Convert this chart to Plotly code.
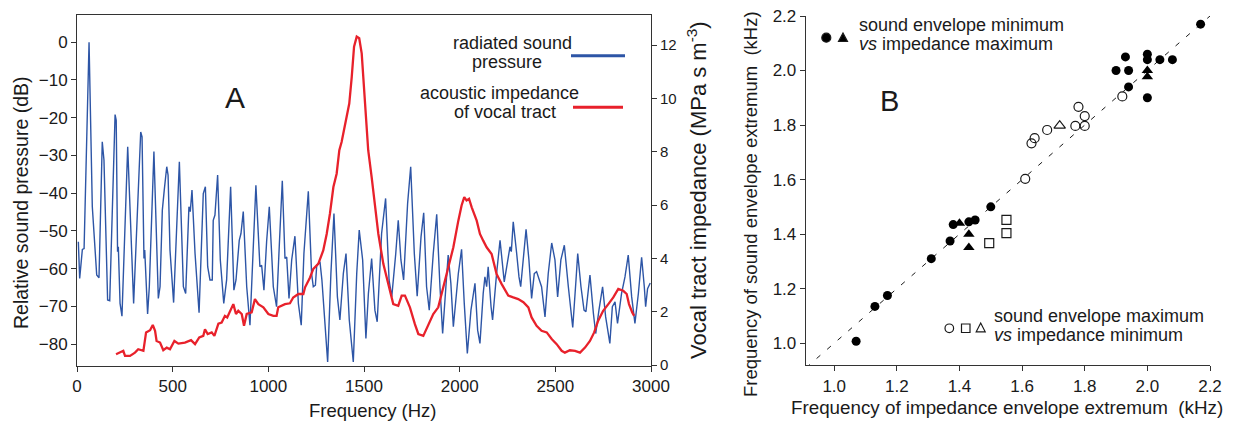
import plotly.graph_objects as go

# ---- panel A: radiated sound pressure (dB) vs frequency (Hz)
blue_f = [7, 14, 28, 37, 63, 80, 103, 115, 132, 141, 160, 171, 199, 205, 212, 216, 225, 235, 265, 296,
          333, 340, 350, 354, 369, 378, 402, 425, 434, 446, 456, 469, 476, 486, 505, 535, 556, 568, 585, 592,
          601, 617, 638, 660, 671, 683, 695, 707, 712, 721, 735, 749, 767, 782, 803, 820, 831, 848, 857, 869,
          887, 904, 935, 956, 965, 977, 991, 1005, 1026, 1043, 1057, 1073, 1087, 1096, 1108, 1122, 1139, 1157,
          1172, 1186, 1209, 1226, 1235, 1246, 1253, 1270, 1280, 1296, 1310, 1327, 1343, 1361, 1374, 1392, 1406,
          1423, 1444, 1462, 1475, 1493, 1510, 1523, 1540, 1557, 1569, 1592, 1613, 1631, 1645, 1666, 1679, 1693,
          1707, 1728, 1744, 1763, 1778, 1798, 1812, 1827, 1841, 1862, 1880, 1897, 1911, 1928, 1940, 1954, 1967,
          1993, 2010, 2024, 2040, 2059, 2080, 2094, 2106, 2123, 2132, 2141, 2149, 2164, 2172, 2193, 2211, 2233,
          2249, 2263, 2270, 2280, 2298, 2310, 2319, 2333, 2347, 2362, 2376, 2390, 2402, 2428, 2446, 2463, 2481,
          2498, 2512, 2529, 2547, 2568, 2591, 2608, 2617, 2634, 2650, 2660, 2681, 2699, 2711, 2728, 2747, 2763,
          2785, 2798, 2812, 2825, 2846, 2864, 2881, 2899, 2916, 2934, 2951, 2965, 2972, 2982, 2996]
blue_db = [-52.9, -62.6, -54.9, -54.7, 0, -43.6, -61.7, -62.4, -26.4, -31.3, -68.3, -68.5, -19.2, -20.7, -55.5,
           -54.2, -69.2, -72.6, -27.7, -69.2, -23.8, -25.1, -57.3, -55.1, -72, -64.8, -29, -67.9, -64.8, -44.5,
           -39.2, -33, -35.2, -55.1, -69, -31.7, -64.8, -66.6, -43.6, -44.9, -39.2, -56, -71.7, -40.1, -38.3,
           -59.5, -63, -63, -47.2, -45.8, -35.2, -57.7, -69.2, -63, -38.3, -65.7, -63, -52.5, -50.7, -44.9,
           -64.8, -75, -37.9, -59.5, -59.1, -65.7, -52.9, -43.6, -64.8, -70.1, -54.2, -36.7, -57.3, -56.9,
           -67.9, -57.7, -51.4, -69.2, -75, -56, -39.5, -61.3, -64.8, -64.4, -59.1, -58.2, -63, -75.4, -84.7,
           -61.3, -45.4, -67.5, -73.6, -61.3, -56, -73.6, -84.7, -61.3, -49.8, -57.7, -78.5, -66.6, -57.3, -71,
           -74.1, -50.7, -41.4, -63, -67.5, -56, -47.2, -57.7, -63, -42.7, -33, -56, -67.3, -51.6, -45.2, -64.8,
           -71, -56, -45.6, -64.8, -77.2, -64.8, -56.4, -63.9, -75.4, -61.3, -54.9, -69.2, -82.5, -71, -63.9,
           -76.3, -79.8, -66.6, -62.2, -64.8, -59.5, -70.1, -73.6, -61.3, -52.5, -63.5, -58, -54.2, -55.5,
           -47.6, -56, -62.2, -64.8, -57.7, -49.6, -57.7, -67.9, -61.3, -60.8, -64.8, -72.8, -61.3, -53.2,
           -57.7, -67.5, -57.7, -53.8, -64.8, -75.6, -63, -56, -64.8, -71, -71.4, -61.7, -71.9, -77.2, -71,
           -64.8, -72.8, -79.8, -70.1, -68.8, -74.5, -66.6, -62.2, -56.4, -67.5, -74.5, -66.6, -57, -64.8,
           -70.1, -65.3, -63.8]

# ---- panel A: acoustic impedance of vocal tract (MPa s m-3)
red_f = [204, 242, 251, 277, 303, 320, 347, 361, 382, 396, 408, 416, 434, 451, 469, 486, 509, 530, 564, 596,
         617, 639, 660, 669, 683, 704, 718, 739, 756, 773, 785, 800, 817, 831, 843, 861, 873, 887, 913, 930,
         948, 974, 1000, 1026, 1043, 1052, 1087, 1113, 1130, 1157, 1183, 1192, 1218, 1235, 1261, 1287, 1305,
         1322, 1340, 1357, 1371, 1383, 1395, 1409, 1423, 1436, 1448, 1462, 1475, 1488, 1500, 1514, 1522, 1540,
         1557, 1575, 1601, 1627, 1653, 1679, 1697, 1714, 1740, 1766, 1784, 1810, 1836, 1862, 1888, 1914, 1940,
         1967, 1993, 2010, 2024, 2036, 2049, 2063, 2089, 2106, 2123, 2141, 2167, 2193, 2219, 2237, 2254, 2280,
         2306, 2333, 2359, 2376, 2402, 2428, 2455, 2481, 2507, 2533, 2550, 2576, 2603, 2629, 2655, 2681, 2703,
         2724, 2750, 2777, 2803, 2829, 2855, 2873, 2885, 2902, 2912]
red_imp = [0.41, 0.54, 0.35, 0.35, 0.47, 0.6, 0.54, 1.23, 1.31, 1.51, 1.29, 0.91, 0.85, 0.56, 0.66, 0.6, 0.91,
           0.81, 0.85, 0.94, 0.79, 1.04, 1.1, 1.35, 1.17, 1.23, 1.1, 1.56, 1.6, 1.85, 1.79, 2.04, 2.29, 1.92,
           2.04, 1.92, 1.48, 1.92, 1.98, 2.48, 2.29, 2.17, 1.92, 1.85, 1.85, 2.17, 2.29, 2.32, 2.54, 2.67, 2.67,
           2.92, 3.29, 3.61, 3.8, 4.3, 4.92, 5.68, 6.68, 7.18, 8.06, 8.37, 8.81, 9.21, 9.81, 10.81, 11.94, 12.32,
           12.26, 11.69, 10.44, 8.9, 8.06, 7.05, 5.92, 4.92, 3.8, 3.05, 2.29, 2.23, 2.61, 2.61, 2.17, 1.54, 1.17,
           1.1, 1.48, 1.92, 2.17, 2.92, 3.67, 4.42, 5.42, 5.99, 6.3, 6.18, 6.24, 5.92, 5.42, 4.92, 4.67, 4.42,
           4.17, 3.42, 3.05, 2.85, 2.61, 2.54, 2.48, 2.36, 2.17, 1.79, 1.48, 1.29, 1.23, 0.98, 0.79, 0.54, 0.47,
           0.56, 0.54, 0.47, 0.66, 0.91, 1.23, 1.67, 2.04, 2.29, 2.54, 2.86, 2.79, 2.67, 2.29, 1.98, 1.85]

# ---- panel B: impedance extremum (x) vs sound envelope extremum (y), kHz
min_circ_x = [2.17, 1.93, 2.00, 2.00, 2.04, 2.08, 1.90, 1.94, 1.94, 2.00, 1.50, 1.38, 1.43, 1.45,
              1.37, 1.31, 1.17, 1.13, 1.07]
min_circ_y = [2.17, 2.05, 2.06, 2.04, 2.04, 2.04, 2.00, 2.00, 1.94, 1.90, 1.50, 1.435, 1.445, 1.452,
              1.375, 1.31, 1.175, 1.135, 1.007]
min_tri_x = [2.00, 2.00, 1.40, 1.43, 1.43]
min_tri_y = [2.00, 1.977, 1.44, 1.40, 1.351]
max_circ_x = [1.92, 1.78, 1.80, 1.77, 1.80, 1.68, 1.64, 1.63, 1.61]
max_circ_y = [1.905, 1.867, 1.833, 1.797, 1.797, 1.782, 1.752, 1.733, 1.603]
max_sq_x = [1.55, 1.55, 1.495]
max_sq_y = [1.452, 1.404, 1.367]
max_tri_x = [1.72]
max_tri_y = [1.798]
diag = [0.91, 2.2]

W, H = 1234, 421
FONT = "Liberation Sans, Arial, Helvetica, sans-serif"
INK = "#1a1a1a"
BLUE = "#2d55a6"
RED = "#e8212b"


def px(x):
    return x / W


def py(y):
    return 1 - y / H


fig = go.Figure()

fig.add_trace(go.Scatter(x=blue_f, y=blue_db, mode="lines", line=dict(color=BLUE, width=1.4),
                         xaxis="x", yaxis="y"))
fig.add_trace(go.Scatter(x=red_f, y=red_imp, mode="lines", line=dict(color=RED, width=2.3),
                         xaxis="x", yaxis="y2"))

fig.add_trace(go.Scatter(x=diag, y=diag, mode="lines",
                         line=dict(color=INK, width=1, dash="5px,9px"), xaxis="x2", yaxis="y3"))
mk = dict(mode="markers", xaxis="x2", yaxis="y3")
fig.add_trace(go.Scatter(x=max_circ_x, y=max_circ_y,
                         marker=dict(symbol="circle-open", size=9, color=INK, line=dict(width=1.2)), **mk))
fig.add_trace(go.Scatter(x=max_sq_x, y=max_sq_y,
                         marker=dict(symbol="square-open", size=9, color=INK, line=dict(width=1.2)), **mk))
fig.add_trace(go.Scatter(x=max_tri_x, y=max_tri_y,
                         marker=dict(symbol="triangle-up-open", size=10, color=INK, line=dict(width=1.2)), **mk))
fig.add_trace(go.Scatter(x=min_circ_x, y=min_circ_y,
                         marker=dict(symbol="circle", size=9, color="black"), **mk))
fig.add_trace(go.Scatter(x=min_tri_x, y=min_tri_y,
                         marker=dict(symbol="triangle-up", size=10, color="black"), **mk))

ax = dict(showline=True, linecolor="#333", linewidth=1, ticks="outside", ticklen=5, tickcolor="#333",
          showgrid=False, zeroline=False, automargin=False,
          tickfont=dict(size=17, color=INK, family=FONT))

fig.update_layout(
    width=W, height=H, autosize=False,
    margin=dict(l=0, r=0, t=0, b=0, autoexpand=False),
    paper_bgcolor="white", plot_bgcolor="white",
    showlegend=False,
    font=dict(family=FONT, color=INK),
    xaxis=dict(ax, domain=[px(77), px(651)], range=[0, 3000], tickvals=[0, 500, 1000, 1500, 2000, 2500, 3000],
               mirror=True, anchor="y"),
    yaxis=dict(ax, domain=[py(366), py(15)], range=[-85.8, 7.2], tickvals=list(range(-80, 1, 10)),
               anchor="x"),
    yaxis2=dict(ax, overlaying="y", side="right", anchor="x", range=[-0.03, 13.13],
                tickvals=[0, 2, 4, 6, 8, 10, 12], tickfont=dict(size=15, color=INK, family=FONT)),
    xaxis2=dict(ax, domain=[px(805.7), px(1210)], range=[0.909, 2.2], tickvals=[1.0, 1.2, 1.4, 1.6, 1.8, 2.0, 2.2],
                tickformat=".1f", anchor="y3"),
    yaxis3=dict(ax, domain=[py(365.3), py(16)], range=[0.919, 2.2], tickvals=[1.0, 1.2, 1.4, 1.6, 1.8, 2.0, 2.2],
                tickformat=".1f", anchor="x2"),
)


def label(text, x, y, size, angle=0, anchor="center"):
    fig.add_annotation(text=text, x=px(x), y=py(y), xref="paper", yref="paper", showarrow=False,
                       textangle=angle, xanchor=anchor, yanchor="middle",
                       font=dict(size=size, color=INK, family=FONT))


# axis titles
label("Relative sound pressure (dB)", 21, 203, 19.5, angle=-90)
label("Vocal tract impedance (MPa s m<sup>-3</sup>)", 697, 190, 22, angle=-90)
label("Frequency (Hz)", 372, 410, 18.5)
label("Frequency of sound envelope extremum  (kHz)", 750, 204, 18.5, angle=-90)
label("Frequency of impedance envelope extremum  (kHz)", 1007, 407, 18.8)

# panel letters
label("A", 235, 97, 30)
label("B", 889, 101, 29)

# panel A legend
label("radiated sound", 512, 43, 18)
label("pressure", 507, 62, 18)
label("acoustic impedance", 499, 93, 18)
label("of vocal tract", 505, 112, 18)
fig.add_shape(type="line", xref="paper", yref="paper", x0=px(571), x1=px(625), y0=py(55.7), y1=py(55.7),
              line=dict(color=BLUE, width=3))
fig.add_shape(type="line", xref="paper", yref="paper", x0=px(573), x1=px(623), y0=py(107.3), y1=py(107.3),
              line=dict(color=RED, width=3))

# panel B legend
label("sound envelope minimum", 857, 25, 18, anchor="left")
label("<i>vs</i> impedance maximum", 857, 43.5, 18, anchor="left")
label("sound envelope maximum", 992, 316, 18, anchor="left")
label("<i>vs</i> impedance minimum", 992, 334.5, 18, anchor="left")


def circle(cx, cy, r, filled):
    fig.add_shape(type="circle", xref="paper", yref="paper", x0=px(cx - r), x1=px(cx + r),
                  y0=py(cy + r), y1=py(cy - r), line=dict(color=INK, width=1.2),
                  fillcolor="black" if filled else "rgba(0,0,0,0)")


def poly(pts, filled):
    path = "M " + " L ".join(f"{px(a):.5f},{py(b):.5f}" for a, b in pts) + " Z"
    fig.add_shape(type="path", xref="paper", yref="paper", path=path, line=dict(color=INK, width=1.2),
                  fillcolor="black" if filled else "rgba(0,0,0,0)")


circle(826.3, 37.7, 4.5, True)
poly([(838.5, 41.5), (847.5, 41.5), (843, 33)], True)
circle(949.3, 328.3, 4.3, False)
poly([(961.5, 324), (970, 324), (970, 332.5), (961.5, 332.5)], False)
poly([(976.2, 331.8), (985.2, 331.8), (980.7, 323)], False)

# drop the browser's default 8px body margin so the figure fills the window
fig.write_html("out.html", config={"displayModeBar": False},
               post_script="document.body.style.margin = '0';")
